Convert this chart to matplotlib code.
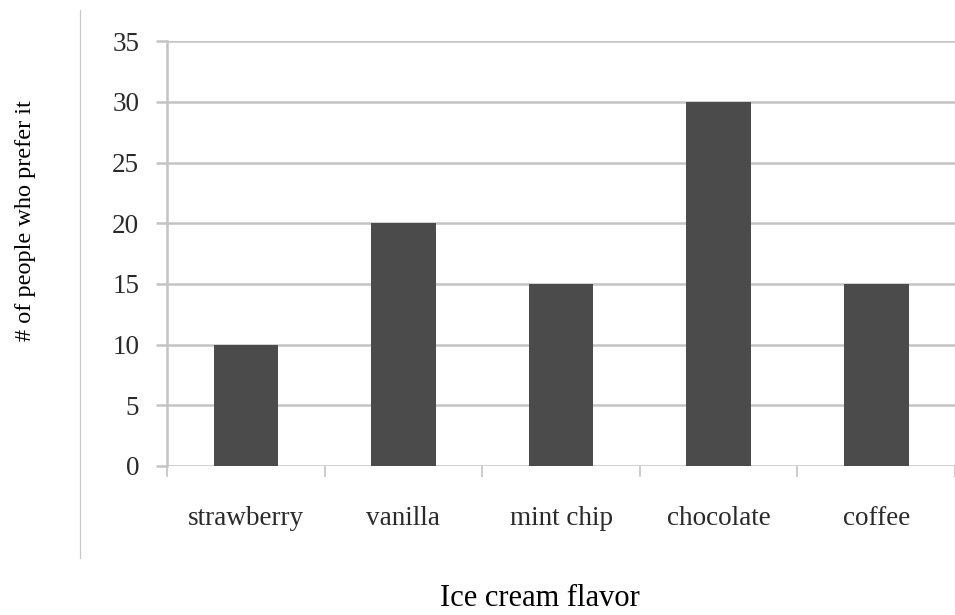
import matplotlib.pyplot as plt
from matplotlib.lines import Line2D
import numpy as np

flavors = ['strawberry', 'vanilla', 'mint chip', 'chocolate', 'coffee']
people = [10, 20, 15, 30, 15]
y_ticks = [0, 5, 10, 15, 20, 25, 30, 35]

plt.rcParams['font.family'] = ['Liberation Serif', 'DejaVu Serif']

grid_grey = '#c4c4c4'
bar_grey = '#4b4b4b'

fig = plt.figure(figsize=(9.55, 6.15), dpi=100)
ax = fig.add_axes([0.1749, 0.2423, 0.8251, 0.6905])

x = np.arange(len(flavors))
ax.bar(x, people, width=0.41, color=bar_grey, zorder=3)

ax.set_xlim(-0.5, len(flavors) - 0.5)
ax.set_ylim(0, 35)
ax.set_yticks(y_ticks)
ax.yaxis.grid(True, color=grid_grey, linewidth=1.8, zorder=0)

# categories sit between the boundary ticks
ax.set_xticks(x)
ax.set_xticklabels(flavors, fontsize=19.5, color='#2a2a2a')
ax.set_xticks(np.arange(-0.5, len(flavors)), minor=True)
ax.tick_params(axis='x', which='major', length=0, pad=29)
ax.tick_params(axis='x', which='minor', length=8, width=1.2, color=grid_grey)
ax.tick_params(axis='y', length=8, width=1.8, color=grid_grey, pad=12,
               labelsize=19.5, labelcolor='#2a2a2a')

for side in ['top', 'right', 'bottom']:
    ax.spines[side].set_visible(False)
ax.spines['left'].set_color(grid_grey)
ax.spines['left'].set_linewidth(1.8)

fig.text(0.0262, 0.641, '# of people who prefer it', rotation=90,
         ha='center', va='center', fontsize=17.5)
fig.text(0.565, 0.027, 'Ice cream flavor', ha='center', va='center',
         fontsize=22)

fig.add_artist(Line2D([0.0838, 0.0838], [0.0927, 0.9837], color='#c8c8c8',
                      linewidth=0.9, transform=fig.transFigure))

fig.savefig('out.png', dpi=100)
